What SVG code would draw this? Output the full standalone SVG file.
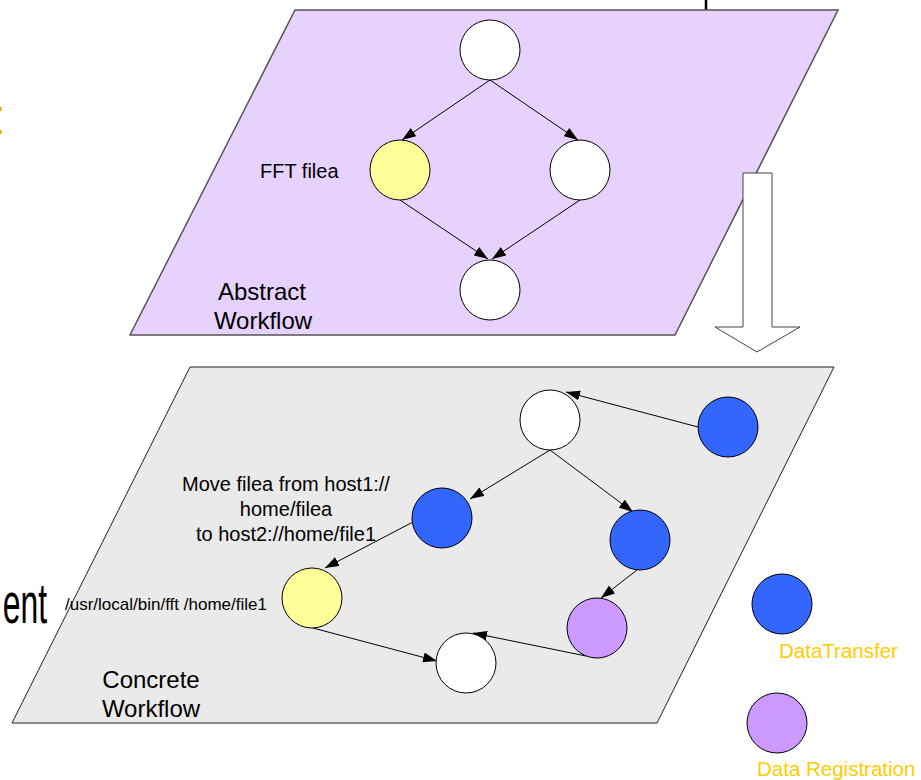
<svg xmlns="http://www.w3.org/2000/svg" width="921" height="780" viewBox="0 0 921 780">
  <style>
    text { font-family: "Liberation Sans", Arial, sans-serif; fill: #000; }
    .node { stroke: #000; stroke-width: 1; }
    .white { fill: #FFFFFF; }
    .yellow { fill: #FFFF99; }
    .blue { fill: #3366FF; }
    .purple { fill: #CC99FF; }
    .edge { stroke: #000; stroke-width: 1; fill: none; marker-end: url(#arrow); }
    .legend { fill: #FFCC00; font-size: 20.5px; }
    .label { font-size: 20px; }
    .title { font-size: 24px; text-anchor: middle; }
  </style>
  <defs>
    <marker id="arrow" viewBox="0 0 14 10" refX="14" refY="5" markerWidth="14" markerHeight="10" markerUnits="userSpaceOnUse" orient="auto">
      <path d="M0,0 L14,5 L0,10 z" fill="#000"/>
    </marker>
  </defs>

  <!-- partial glyphs at the left edge -->
  <rect x="0" y="107" width="1.5" height="4" fill="#FF9900"/>
  <rect x="0" y="130" width="1.5" height="4" fill="#FF9900"/>
  <text transform="translate(47,623) scale(0.55,1)" font-size="58" text-anchor="end">ent</text>

  <!-- feed line into the abstract plane -->
  <line x1="706" y1="0" x2="706" y2="10" stroke="#000" stroke-width="2.5"/>

  <!-- abstract workflow plane -->
  <g id="abstract-plane">
    <polygon points="295,10 838,10 675,335 130,335" fill="#E6D2FD" stroke="#555" stroke-width="1.5"/>
    <text class="title" x="262" y="300">Abstract</text>
    <text class="title" x="263" y="329">Workflow</text>
  </g>

  <!-- concrete workflow plane -->
  <g id="concrete-plane">
    <polygon points="190,367 834,367 657,723 12,723" fill="#EAEAEA" stroke="#222" stroke-width="1"/>
    <text class="title" x="151" y="688">Concrete</text>
    <text class="title" x="151" y="717">Workflow</text>
  </g>

  <!-- mapping arrow between planes -->
  <g id="map-arrow">
    <polygon points="743,173 772,173 772,327 800,327 757,352 715,327 743,327" fill="#FFFFFF" stroke="#444" stroke-width="1"/>
  </g>

  <!-- connectors -->
  <g id="connectors">
    <line class="edge" x1="490" y1="80" x2="402" y2="140"/>
    <line class="edge" x1="490" y1="80" x2="578" y2="140"/>
    <line class="edge" x1="400" y1="200" x2="488" y2="259"/>
    <line class="edge" x1="580" y1="200" x2="492" y2="259"/>

    <line class="edge" x1="698" y1="427" x2="566" y2="392"/>
    <line class="edge" x1="550" y1="450" x2="470" y2="499"/>
    <line class="edge" x1="550" y1="450" x2="633" y2="512"/>
    <line class="edge" x1="413" y1="522" x2="325" y2="568"/>
    <line class="edge" x1="637" y1="570" x2="601" y2="598"/>
    <line class="edge" x1="313" y1="628" x2="437" y2="661"/>
    <line class="edge" x1="586" y1="656" x2="473" y2="633"/>
  </g>

  <!-- abstract nodes -->
  <g id="a-top"><circle class="node white" cx="490" cy="50" r="30"/></g>
  <g id="a-fft">
    <circle class="node yellow" cx="400" cy="170" r="30"/>
    <text class="label" x="260" y="178">FFT filea</text>
  </g>
  <g id="a-right"><circle class="node white" cx="580" cy="170" r="30"/></g>
  <g id="a-bottom"><circle class="node white" cx="490" cy="290" r="30"/></g>

  <!-- concrete nodes -->
  <g id="c-top"><circle class="node white" cx="550" cy="420" r="30"/></g>
  <g id="c-transfer-right"><circle class="node blue" cx="728" cy="427" r="30"/></g>
  <g id="c-move">
    <circle class="node blue" cx="442" cy="518" r="30"/>
    <text class="label" x="286" y="491" text-anchor="middle">Move filea from host1://</text>
    <text class="label" x="286" y="516" text-anchor="middle">home/filea</text>
    <text class="label" x="286" y="541" text-anchor="middle">to host2://home/file1</text>
  </g>
  <g id="c-transfer-mid"><circle class="node blue" cx="640" cy="540" r="30"/></g>
  <g id="c-fft">
    <circle class="node yellow" cx="312" cy="598" r="30"/>
    <text x="65" y="610" font-size="17">/usr/local/bin/fft /home/file1</text>
  </g>
  <g id="c-register"><circle class="node purple" cx="597" cy="628" r="30"/></g>
  <g id="c-bottom"><circle class="node white" cx="466" cy="663" r="30"/></g>

  <!-- legend -->
  <g id="legend-transfer">
    <circle class="node blue" cx="782" cy="604" r="30"/>
    <text class="legend" x="779" y="658">DataTransfer</text>
  </g>
  <g id="legend-registration">
    <circle class="node purple" cx="777" cy="723" r="30"/>
    <text class="legend" x="757" y="776">Data Registration</text>
  </g>
</svg>
